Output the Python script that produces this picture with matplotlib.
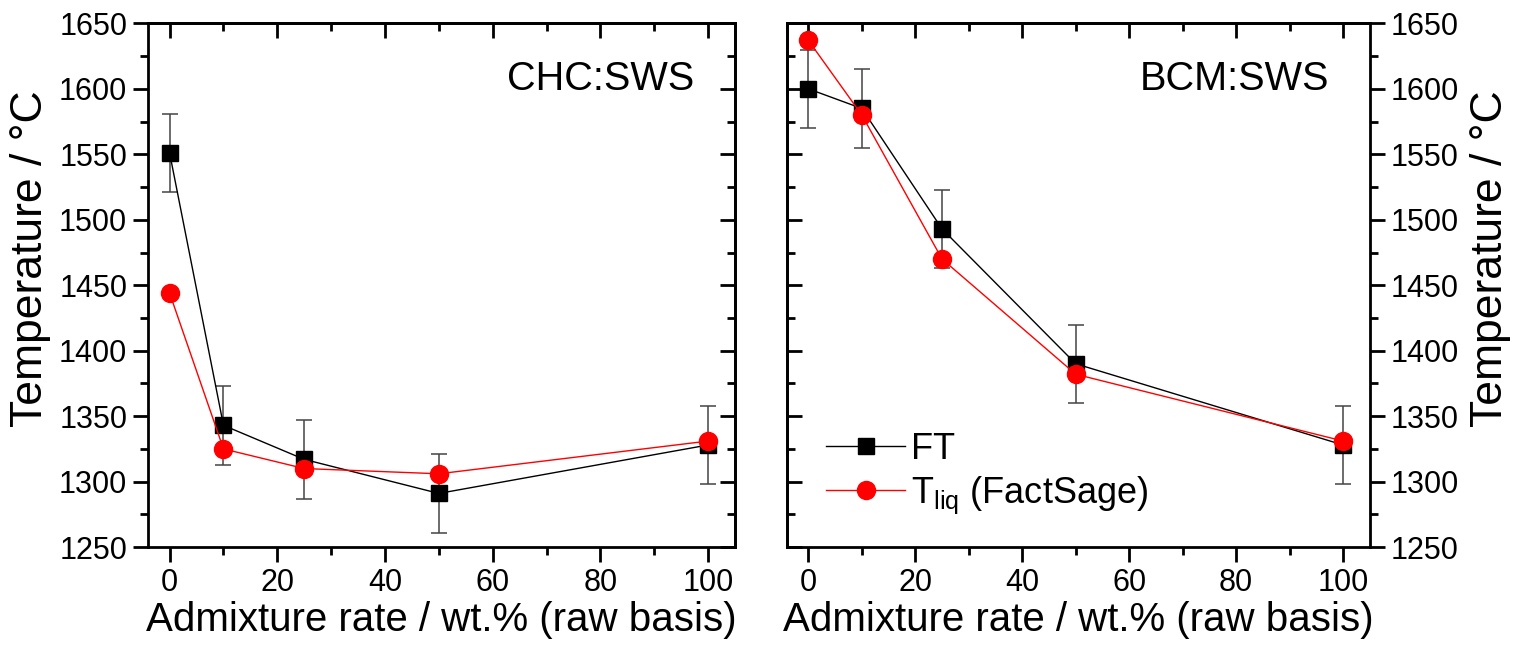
import matplotlib.pyplot as plt
from matplotlib.ticker import MultipleLocator

plt.rcParams['font.family'] = ['Liberation Sans', 'DejaVu Sans']
plt.rcParams['mathtext.fontset'] = 'custom'
plt.rcParams['mathtext.rm'] = 'Liberation Sans'
plt.rcParams['mathtext.default'] = 'regular'

rate = [0, 10, 25, 50, 100]

# CHC:SWS
chc_ft = [1551, 1343, 1317, 1291, 1328]
chc_ft_err = [30, 30, 30, 30, 30]
chc_tliq = [1444, 1325, 1310, 1306, 1331]

# BCM:SWS
bcm_ft = [1600, 1585, 1493, 1390, 1328]
bcm_ft_err = [30, 30, 30, 30, 30]
bcm_tliq = [1637, 1580, 1470, 1382, 1331]


def draw_panel(ax, ft, ft_err, tliq, name):
    ax.errorbar(rate, ft, yerr=ft_err, fmt='none', ecolor='#444444',
                elinewidth=1.1, capsize=6, capthick=1.1, zorder=2)
    ax.plot(rate, ft, color='black', lw=1, marker='s', ms=12,
            mfc='black', mec='black', label='FT', zorder=3)
    ax.plot(rate, tliq, color='red', lw=1, marker='o', ms=13,
            mfc='red', mec='red', label='T$_{liq}$ (FactSage)', zorder=4)
    ax.set_xlim(-4, 105)
    ax.set_ylim(1250, 1650)
    ax.xaxis.set_major_locator(MultipleLocator(20))
    ax.xaxis.set_minor_locator(MultipleLocator(10))
    ax.yaxis.set_major_locator(MultipleLocator(50))
    ax.yaxis.set_minor_locator(MultipleLocator(25))
    for s in ax.spines.values():
        s.set_linewidth(2)
    ax.set_xlabel('Admixture rate / wt.% (raw basis)', fontsize=29, labelpad=2)
    ax.text(0.93, 0.893, name, transform=ax.transAxes, fontsize=28.5,
            ha='right', va='center')


def style_ticks(ax):
    ax.tick_params(axis='both', which='both', labelsize=22, width=2, pad=4)
    ax.tick_params(axis='both', which='major', length=11)
    ax.tick_params(axis='both', which='minor', length=6)


def inner_axis(sec):
    sec.tick_params(which='both', direction='in', width=2)
    sec.tick_params(which='major', length=11)
    sec.tick_params(which='minor', length=6)
    for s in sec.spines.values():
        s.set_linewidth(2)


fig = plt.figure(figsize=(15.14, 6.49), dpi=100)
ax1 = fig.add_axes([0.0978, 0.157, 0.3877, 0.807])
ax2 = fig.add_axes([0.5198, 0.157, 0.385, 0.807])

draw_panel(ax1, chc_ft, chc_ft_err, chc_tliq, 'CHC:SWS')
draw_panel(ax2, bcm_ft, bcm_ft_err, bcm_tliq, 'BCM:SWS')

# left panel: outward ticks on bottom/left, inward on top/right
style_ticks(ax1)
ax1.tick_params(axis='x', which='both', direction='out', top=False)
ax1.tick_params(axis='y', which='both', direction='out', right=False)
sx1 = ax1.secondary_xaxis('top')
sx1.xaxis.set_minor_locator(MultipleLocator(10))
sx1.tick_params(labeltop=False)
inner_axis(sx1)
sy1 = ax1.secondary_yaxis('right')
sy1.yaxis.set_minor_locator(MultipleLocator(25))
sy1.tick_params(labelright=False)
inner_axis(sy1)
ax1.set_ylabel('Temperature / °C', fontsize=32)
ax1.yaxis.set_label_coords(-0.166, 0.55)

# right panel: labels on the right
ax2.yaxis.tick_right()
ax2.yaxis.set_label_position('right')
style_ticks(ax2)
ax2.tick_params(axis='x', which='both', direction='out', top=False)
ax2.tick_params(axis='y', which='both', direction='out', left=False)
sx2 = ax2.secondary_xaxis('top')
sx2.xaxis.set_minor_locator(MultipleLocator(10))
sx2.tick_params(labeltop=False)
inner_axis(sx2)
sy2 = ax2.secondary_yaxis('left')
sy2.yaxis.set_minor_locator(MultipleLocator(25))
sy2.tick_params(labelleft=False)
inner_axis(sy2)
ax2.set_ylabel('Temperature / °C', fontsize=32)
ax2.yaxis.set_label_coords(1.172, 0.55)

ax2.legend(loc='lower left', bbox_to_anchor=(0.067, 0.06), frameon=False,
           fontsize=26, handlelength=2.2, handletextpad=0.15,
           labelspacing=0.2, borderpad=0, borderaxespad=0)

fig.savefig('out.png', dpi=100)
